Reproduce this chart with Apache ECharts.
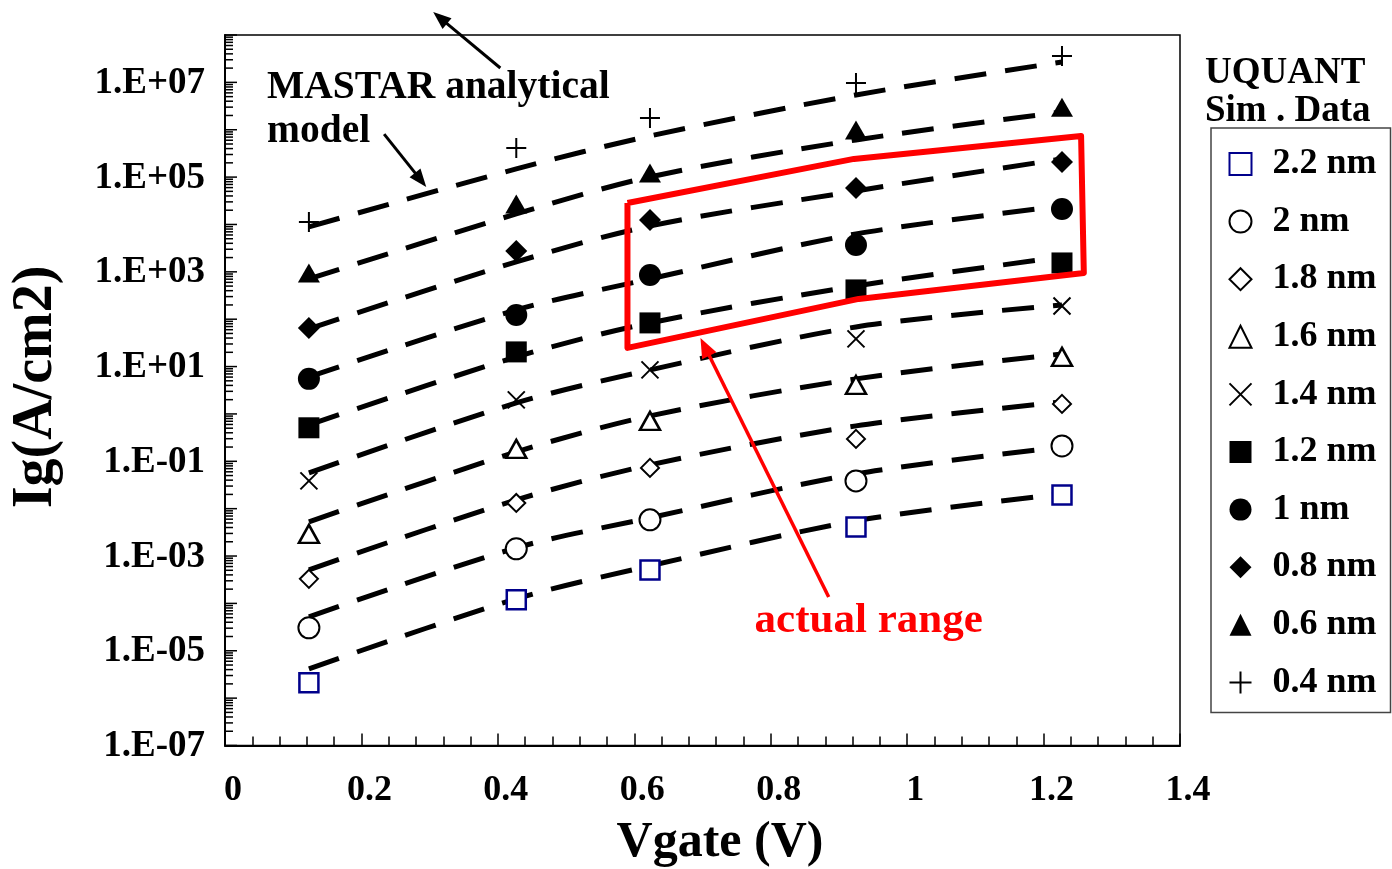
<!DOCTYPE html>
<html><head><meta charset="utf-8">
<script src="https://cdn.jsdelivr.net/npm/echarts@6/dist/echarts.min.js"></script>
<style>html,body{margin:0;padding:0;background:#fff}#c{width:1392px;height:869px}</style>
</head><body><div id="c"></div>
<script>
// ---------- data ----------
const vgate = [0.123, 0.427, 0.623, 0.925, 1.227];
const thicknessNames = ['2.2 nm','2 nm','1.8 nm','1.6 nm','1.4 nm','1.2 nm','1 nm','0.8 nm','0.6 nm','0.4 nm'];
// UQUANT simulation data (markers)
const sim22 = [2.1e-6, 1.19e-4, 5.1e-4, 4.1e-3, 1.95e-2];
const sim20 = [3.05e-5, 1.42e-3, 5.8e-3, 0.0386, 0.211];
const sim18 = [3.3e-4, 0.0132, 0.0726, 0.297, 1.63];
const sim16 = [2.94e-3, 0.183, 0.713, 4.1, 16];
const sim14 = [0.0386, 1.98, 8.5, 38.4, 190];
const sim12 = [0.51, 20.4, 83.5, 415, 1540];
const sim10 = [5.5, 123, 861, 3700, 21300];
const sim08 = [65, 2760, 12400, 59000, 209000];
const sim06 = [950, 27000, 122000, 990000, 3.0e6];
const sim04 = [11300, 410000, 1.77e6, 9.7e6, 3.6e7];
// MASTAR analytical model (dashed lines)
const mod22 = [4.16e-6, 1.25e-4, 6.2e-4, 5.53e-3, 0.0205];
const mod20 = [5.2e-5, 1.49e-3, 6.4e-3, 0.0542, 0.201];
const mod18 = [5.1e-4, 0.0153, 0.084, 0.56, 1.79];
const mod16 = [5.26e-3, 0.158, 0.91, 5.5, 18.5];
const mod14 = [0.057, 1.71, 8.5, 68.7, 200];
const mod12 = [0.587, 16.0, 83.5, 504, 2060];
const mod10 = [6.05, 157, 708, 6310, 24600];
const mod08 = [62.4, 1620, 9300, 51000, 242000];
const mod06 = [708, 16700, 101000, 608000, 2.37e6];
const mod04 = [8870, 149000, 738000, 5.42e6, 2.69e7];
const simSets = [sim22, sim20, sim18, sim16, sim14, sim12, sim10, sim08, sim06, sim04];
const modSets = [mod22, mod20, mod18, mod16, mod14, mod12, mod10, mod08, mod06, mod04];
// axis ticks / labels
const xTickLabels = ['0','0.2','0.4','0.6','0.8','1','1.2','1.4'];
const yLabelValues = [1e-7, 1e-5, 1e-3, 1e-1, 1e1, 1e3, 1e5, 1e7];
const yTickLabels = ['1.E-07','1.E-05','1.E-03','1.E-01','1.E+01','1.E+03','1.E+05','1.E+07'];
const yDecadeExps = [-7,-6,-5,-4,-3,-2,-1,0,1,2,3,4,5,6,7,8];
const yMinorMult = [2,3,4,5,6,7,8,9];
// annotations (data coordinates)
const redBox = [[0.590, 2.84e4],[0.922, 2.42e5],[1.255, 7.38e5],[1.259, 949],[0.929, 268],[0.590, 24.8],[0.590, 2.84e4]];
const annText = { mastar1:[0.0616, 7.6e6], mastar2:[0.0616, 8.97e5], actual:[0.9436, 4.28e-5] };
const annArrows = { a1:[[0.4036, 2.01e7],[0.3052, 3.05e8]], a2:[[0.2333, 8.1e5],[0.295, 6.2e4]], red:[[0.885, 1.37e-4],[0.697, 40.3]] };

// ---------- styles ----------
const FONT = '"Liberation Serif", "Times New Roman", serif';
const markerStyles = [
  {symbol:'rect', size:19, fill:'#fff', stroke:'#00008b', bw:2.5},
  {symbol:'circle', size:21, fill:'#fff', stroke:'#000', bw:2},
  {symbol:'diamond', size:18, fill:'#fff', stroke:'#000', bw:2},
  {symbol:'triangle', size:[20,18], fill:'#fff', stroke:'#000', bw:2.5},
  {symbol:'path://M0,0L10,10M10,0L0,10', size:17, fill:'none', stroke:'#000', bw:2},
  {symbol:'rect', size:21, fill:'#000', stroke:'#000', bw:0},
  {symbol:'circle', size:22, fill:'#000', stroke:'#000', bw:0},
  {symbol:'diamond', size:22, fill:'#000', stroke:'#000', bw:0},
  {symbol:'triangle', size:[22,19], fill:'#000', stroke:'#000', bw:0},
  {symbol:'path://M5,0L5,10M0,5L10,5', size:20, fill:'none', stroke:'#000', bw:2}
];

const chart = echarts.init(document.getElementById('c'), null, {renderer:'canvas'});

const series = [];
modSets.forEach((m, i) => {
  series.push({
    type:'line', name:'model ' + thicknessNames[i], data: vgate.map((x, j) => [x, m[j]]),
    showSymbol:false, symbol:'none', smooth:0.3, silent:true, z:2,
    lineStyle:{color:'#000', width:5, type:[32,19], cap:'butt'}
  });
});
simSets.forEach((s, i) => {
  const st = markerStyles[i];
  series.push({
    type:'scatter', name: thicknessNames[i], data: vgate.map((x, j) => [x, s[j]]),
    symbol: st.symbol, symbolSize: st.size, z:4, silent:true,
    itemStyle:{color: st.fill, borderColor: st.stroke, borderWidth: st.bw, opacity:1}
  });
});
// red box
series.push({
  type:'line', name:'actual range', data: redBox, showSymbol:false, symbol:'none', silent:true, z:5,
  lineStyle:{color:'#ff0000', width:6, join:'round'}
});
// y ticks
const yTickData = [];
yDecadeExps.forEach(e => {
  yTickData.push([0, Math.pow(10, e), 2]);
  if (e < 8) yMinorMult.forEach(k => yTickData.push([0, k * Math.pow(10, e), 1]));
});
series.push({
  type:'custom', name:'yticks', data: yTickData, encode:{x:0, y:1}, clip:false, silent:true, z:6,
  renderItem: (params, api) => {
    const p = api.coord([0, api.value(1)]);
    const len = api.value(2) === 2 ? 12 : 8;
    return {type:'line', shape:{x1:p[0], y1:p[1], x2:p[0] + len, y2:p[1]}, style:{stroke:'#000', lineWidth:1.5}};
  }
});
series.push({
  type:'custom', name:'ylabels', data: yLabelValues.map((v, i) => [0, v, i]), encode:{x:0, y:1}, clip:false, silent:true, z:6,
  renderItem: (params, api) => {
    const p = api.coord([0, api.value(1)]);
    return {type:'text', x: p[0] - 20, y: p[1] + 1, style:{text: yTickLabels[api.value(2)], align:'right', verticalAlign:'middle', font:'bold 37px ' + FONT, fill:'#000'}};
  }
});

chart.setOption({
  animation:false,
  backgroundColor:'#fff',
  grid:{left:225, top:35, width:955, height:710.5, show:true, borderColor:'#000', borderWidth:1.5, backgroundColor:'transparent'},
  xAxis:{
    type:'value', min:0, max:1.4, interval:0.2,
    axisLine:{show:true, onZero:false, lineStyle:{color:'#000', width:2}},
    axisTick:{show:true, inside:true, length:12, lineStyle:{color:'#000', width:1.5}},
    minorTick:{show:true, splitNumber:5, length:9, lineStyle:{color:'#000', width:1.5}},
    splitLine:{show:false}, minorSplitLine:{show:false},
    axisLabel:{color:'#000', fontFamily:FONT, fontWeight:'bold', fontSize:36, margin:27, padding:[0,0,0,16],
      formatter:(v) => xTickLabels[Math.round(v / 0.2)]}
  },
  yAxis:{
    type:'log', logBase:10, min:1e-7, max:1e8,
    axisLine:{show:true, onZero:false, lineStyle:{color:'#000', width:2}},
    axisTick:{show:false}, axisLabel:{show:false}, splitLine:{show:false}
  },
  legend:{
    data: thicknessNames, orient:'vertical', left:1211, top:128, itemWidth:22, itemHeight:22, itemGap:21.6,
    padding:[18,14,12,16], borderColor:'#444', borderWidth:1.5, selectedMode:false,
    textStyle:{fontFamily:FONT, fontWeight:'bold', fontSize:36, color:'#000', padding:[0,0,0,16]}
  },
  series
});

function px(d){ return chart.convertToPixel({gridIndex:0}, d); }
function arrow(tailD, headD, color, w, hl, hw){
  const t = px(tailD), h = px(headD);
  const dx = h[0]-t[0], dy = h[1]-t[1], L = Math.hypot(dx, dy), ux = dx/L, uy = dy/L;
  const bx = h[0]-ux*hl, by = h[1]-uy*hl;
  return [
    {type:'line', shape:{x1:t[0], y1:t[1], x2:bx + ux*2, y2:by + uy*2}, style:{stroke:color, lineWidth:w}, z:10},
    {type:'polygon', shape:{points:[[h[0],h[1]],[bx - uy*hw/2, by + ux*hw/2],[bx + uy*hw/2, by - ux*hw/2]]}, style:{fill:color}, z:10}
  ];
}
const m1 = px(annText.mastar1), m2 = px(annText.mastar2), ac = px(annText.actual);
const graphic = [
  {type:'text', x:m1[0], y:m1[1], style:{text:'MASTAR analytical', font:'bold 39.5px ' + FONT, fill:'#000', align:'left', verticalAlign:'middle'}, z:10},
  {type:'text', x:m2[0], y:m2[1], style:{text:'model', font:'bold 39.5px ' + FONT, fill:'#000', align:'left', verticalAlign:'middle'}, z:10},
  {type:'text', x:ac[0], y:ac[1], style:{text:'actual range', font:'bold 43px ' + FONT, fill:'#ff0000', align:'center', verticalAlign:'middle'}, z:10},
  {type:'text', x:1205, y:73, style:{text:'UQUANT', font:'bold 37px ' + FONT, fill:'#000', align:'left', verticalAlign:'middle'}, z:10},
  {type:'text', x:1205, y:111, style:{text:'Sim . Data', font:'bold 37px ' + FONT, fill:'#000', align:'left', verticalAlign:'middle'}, z:10},
  {type:'text', x:37, y:387, rotation:Math.PI/2, style:{text:'Ig(A/cm2)', font:'bold 56px ' + FONT, fill:'#000', align:'center', verticalAlign:'middle'}, z:10},
  {type:'text', x:720, y:843, style:{text:'Vgate (V)', font:'bold 50px ' + FONT, fill:'#000', align:'center', verticalAlign:'middle'}, z:10}
].concat(
  arrow(annArrows.a1[0], annArrows.a1[1], '#000', 3, 18, 14),
  arrow(annArrows.a2[0], annArrows.a2[1], '#000', 3, 18, 14),
  arrow(annArrows.red[0], annArrows.red[1], '#ff0000', 3.5, 20, 16)
);
chart.setOption({graphic});
</script></body></html>
